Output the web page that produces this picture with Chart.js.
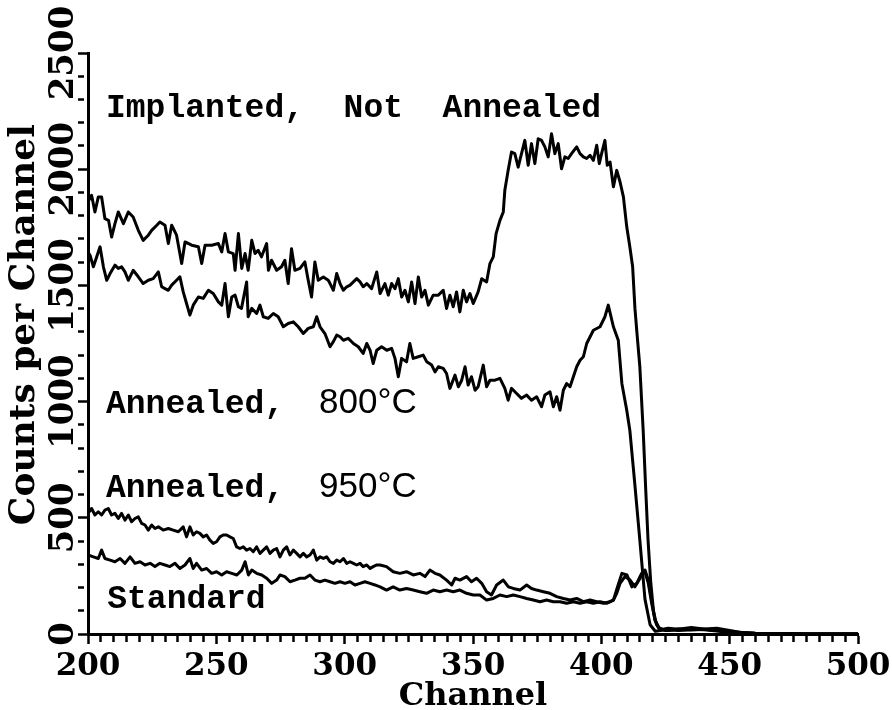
<!DOCTYPE html>
<html>
<head>
<meta charset="utf-8">
<script src="https://cdn.jsdelivr.net/npm/chart.js@4"></script>
<style>
  html, body { margin: 0; padding: 0; background: #fff; }
  #wrap { width: 892px; height: 710px; }
</style>
</head>
<body>
<div id="wrap"><canvas id="c" width="892" height="710"></canvas></div>
<script>
// ---- data (channel, counts per channel) ----
const implantedCh = [200,201.4,202.7,204,205.3,206.6,208,209.2,210.5,211.8,213.8,215.7,217.6,219.6,221.5,223.5,224.8,226.8,228,230,231.3,232.6,234.5,236.5,237.8,240.4,243,244.3,245.6,248.2,250.8,252.1,253.4,254.7,256.6,257.3,258.6,259.9,261.2,262.4,263.8,265.1,266.3,267.6,269.6,270.3,271.5,273.5,275.4,276.7,278,279.3,280.6,282.6,284.5,285.8,287.1,288.4,289.7,291.7,293.6,294.3,295.6,296.9,298.2,299.5,300.8,302.1,303.4,304.7,306,307.2,308.6,310.5,312.5,313.8,315.7,317,318.3,319.6,320.9,322.2,323.5,324.8,326.1,327.4,328.7,330,331.3,332.6,334.5,336.5,338.4,339.7,341,342.3,343.6,344.9,346.2,347.5,348.8,350.1,352,353.4,355.3,356.6,357.9,359,360.5,361.8,362.4,363.7,365,366.3,367.6,368.9,370.2,371.5,372.8,374.1,375.4,376.7,378,379.3,380.6,381.9,383.2,384.5,385.8,387.1,388.4,390.4,391.7,393,394.3,395.6,396.9,398.2,399.2,400.1,401.4,402.3,403.4,404.7,406,407.3,408.6,409.9,411.1,412.2,413.1,414,415,416.3,417.3,418.2,419.2,420.3,421.5,423,426,430,435,440,445,450,455,460,470,480,490,500];
const implantedCounts = [1860,1888,1816,1880,1880,1787,1780,1708,1766,1816,1766,1816,1794,1737,1694,1716,1737,1759,1773,1759,1680,1759,1716,1594,1687,1673,1666,1594,1673,1673,1680,1644,1723,1644,1637,1565,1723,1573,1637,1565,1694,1637,1651,1623,1680,1565,1608,1565,1580,1608,1508,1658,1565,1573,1601,1522,1450,1601,1522,1536,1522,1508,1479,1551,1508,1479,1494,1501,1515,1529,1515,1494,1508,1486,1558,1465,1508,1458,1508,1486,1529,1450,1479,1429,1515,1422,1536,1450,1479,1415,1458,1458,1479,1401,1458,1408,1472,1386,1479,1429,1465,1422,1472,1529,1515,1594,1623,1723,1780,1816,1909,1995,2074,2067,2009,2067,2124,2017,2110,2024,2131,2124,2096,2053,2153,2067,2110,2002,2053,2046,2067,2096,2067,2053,2046,2060,2038,2103,2024,2067,2124,2017,2031,1924,1995,1945,1881,1752,1666,1580,1400,1280,1150,877,620,404,230,100,40,18,25,20,28,22,25,15,5,3,2,0,0,0];

const a800Ch = [200,200.8,202.1,203.4,204.7,206,207.3,208.6,210.5,211.8,213.1,214.4,215.7,217.6,219.6,221.5,223.5,225.4,227.4,228.7,230,231.3,232.6,234.5,235.8,237.1,238.4,239.7,241,243,244.9,246.9,248.8,250.8,252.1,253.4,254.7,256,257.3,258.6,259.8,261.8,262.4,263.8,265.7,267,268.3,270.2,272.2,274.1,276.1,278,280,281.9,283.9,285.8,287.8,289.1,290.4,292.3,294.3,295.6,296.9,298.2,299.5,301.4,303.4,305.3,307.2,308.6,309.9,311.1,312.5,314.4,316.4,318.3,319.6,320.9,322.2,324.1,325.4,326.7,328.7,330.6,332,333.9,335.2,336.5,338.4,339.7,341,343,344.3,345.6,346.9,348.1,349.4,350.8,352,354,355.3,356.6,358.6,360.5,362.4,363.7,365,367,368.9,370.9,372.8,374.8,376.7,378,380,381.3,382.6,383.9,385.2,386.5,387.8,389.1,390.4,391.7,393,394.3,396.9,399.5,401.4,402.7,404.7,406.6,408,409.9,411.1,413,415,417,419,421,425,430,440,450,460,480,500];
const a800Counts = [1644,1630,1580,1623,1666,1580,1522,1551,1587,1573,1580,1558,1522,1565,1537,1508,1522,1529,1558,1494,1486,1479,1501,1522,1537,1472,1422,1372,1415,1450,1444,1479,1465,1429,1415,1508,1365,1450,1458,1408,1401,1515,1365,1401,1379,1415,1365,1358,1379,1365,1322,1336,1343,1322,1293,1315,1322,1365,1322,1293,1236,1258,1286,1279,1264,1272,1250,1236,1207,1250,1221,1164,1221,1236,1221,1229,1186,1107,1186,1171,1250,1186,1193,1200,1171,1157,1128,1150,1143,1121,1057,1114,1064,1092,1150,1071,1107,1049,1064,1157,1064,1092,1092,1100,1057,1006,1057,1035,1014,1028,1006,1021,978,1028,1042,978,1021,963,1049,1078,1064,1107,1150,1178,1193,1250,1307,1322,1365,1415,1322,1264,1078,963,877,650,404,150,40,12,18,15,20,10,3,0,0];

const a950Ch = [200,201.4,202.7,204,205.3,206.6,207.9,209.2,210.5,211.8,213.1,214.4,215.7,217,218.3,219.6,220.9,222.2,223.5,224.8,226.1,227.4,229.3,231.3,233.2,235.2,237.1,238.4,239.7,241,242.3,243.6,244.9,246.2,247.5,248.8,250.1,251.4,252.7,254,255.3,256.6,257.9,259.2,260.5,261.8,263.1,264.4,265.7,267,268.3,269.6,270.9,272.2,273.5,274.8,276.1,277.4,278.7,280,281.3,282.6,283.9,285.2,286.5,287.8,289.1,290.4,291.7,293,294.3,295.6,296.9,298.2,299.5,300.8,302.1,303.4,304.7,306,307.2,308.6,309.9,311.1,312.5,313.8,316.3,318.9,321.5,324.1,326.7,329.3,331.3,333.2,335.2,337.1,339.7,341.7,343,344.9,347.5,349.4,351.4,353.4,355.3,357.2,359.2,361.8,363.8,365.7,368.3,370.9,372.8,374.8,377.4,380,382.6,385.2,387.8,390.4,393,395.6,398.2,400.8,403.4,404.7,406.3,408,410,411.9,413.8,415.7,417,418.3,419.6,420.9,422.8,426,430,435,440,445,450,460,480,500];
const a950Counts = [519,540,512,526,512,533,540,512,519,497,519,490,512,483,497,504,476,469,447,469,454,461,447,454,447,440,461,418,461,426,440,433,418,426,404,390,397,418,426,426,418,411,375,368,375,361,368,354,375,347,361,375,347,361,368,332,361,375,340,361,347,332,347,332,340,361,318,332,325,332,311,304,318,311,325,304,311,304,297,304,290,297,282,290,297,297,290,268,261,268,254,261,247,275,261,254,232,211,240,232,247,225,240,218,182,168,211,232,203,196,189,211,196,189,182,175,161,153,146,153,139,146,139,132,139,146,203,261,254,203,218,261,268,218,132,60,20,15,22,18,20,15,8,2,0,0];

const standardCh = [200,202.1,204,205.3,206.6,208.6,210.5,212.5,214.4,216.4,218.3,220.3,222.2,224.2,226.1,228,230,231.9,233.9,235.8,237.8,239.7,241,242.3,244.3,246.2,248.2,250.1,252.1,254,256,258,259.9,261.2,262.5,263.8,265.7,267.7,269.6,271.6,273.5,274.8,276.7,278.7,280.6,282.6,284.5,286.5,288.4,290.4,292.3,294.3,296.2,298.2,300.1,302.1,304,306,307.9,309.9,311.8,313.8,316.3,318.9,321.5,324.1,326.7,329.3,331.9,334.5,337.1,339.7,342.3,344.9,347.5,350.1,352.7,355.3,357.9,360.5,363.1,365.7,368.3,370.9,373.5,376.1,378.7,381.3,383.9,386.5,389.1,391.7,394.3,396.9,399.5,402,404.7,406,407.3,409.2,411.2,413.1,415.1,417,418.3,419.6,420.9,422.2,425,430,440,450,460,480,500];
const standardCounts = [340,332,325,361,325,318,311,325,304,332,304,311,297,304,290,304,297,290,304,282,297,325,282,304,275,282,261,268,254,268,261,254,275,311,254,275,261,254,240,218,232,254,247,225,232,240,240,254,232,225,232,225,218,225,218,225,211,218,225,218,211,203,189,203,189,196,189,182,175,189,182,189,182,189,175,168,168,146,153,168,161,168,161,153,146,139,146,139,139,132,139,132,139,132,139,132,146,175,218,247,232,203,240,275,232,146,60,29,15,20,18,8,2,0,0];

// ---- axis tick labels ----
const xTickLabels = [200, 250, 300, 350, 400, 450, 500];
const yTickLabels = [0, 500, 1000, 1500, 2000, 2500];

// ---- curve annotations (text, anchored in data units) ----
const annoTexts = ['Implanted,  Not  Annealed', 'Annealed,', '800°C', 'Annealed,', '950°C', 'Standard'];
const annoCh = [207, 207, 290, 207, 290, 207.5];
const annoCounts = [2225, 951, 951, 590, 590, 112];
const annoSans = [false, false, true, false, true, false];

const toXY = (xs, ys) => xs.map((x, i) => ({x: x, y: ys[i]}));

const lineStyle = {
  borderColor: '#000', borderWidth: 3, pointRadius: 0, fill: false,
  tension: 0, borderJoinStyle: 'round', borderCapStyle: 'round'
};

const annoPlugin = {
  id: 'anno',
  afterDatasetsDraw(chart) {
    const {ctx, scales: {x, y}} = chart;
    ctx.save();
    ctx.fillStyle = '#000';
    ctx.textAlign = 'left';
    ctx.textBaseline = 'alphabetic';
    annoTexts.forEach((t, i) => {
      ctx.font = annoSans[i] ? '35px "Liberation Sans"' : 'bold 33px "Liberation Mono"';
      ctx.fillText(t, x.getPixelForValue(annoCh[i]), y.getPixelForValue(annoCounts[i]));
    });
    ctx.restore();
  }
};

const serifBold = (size) => ({family: '"DejaVu Serif"', weight: 'bold', size: size, lineHeight: 1});

new Chart(document.getElementById('c'), {
  type: 'line',
  data: {
    datasets: [
      Object.assign({label: 'Implanted, Not Annealed', data: toXY(implantedCh, implantedCounts)}, lineStyle),
      Object.assign({label: 'Annealed, 800°C', data: toXY(a800Ch, a800Counts)}, lineStyle),
      Object.assign({label: 'Annealed, 950°C', data: toXY(a950Ch, a950Counts)}, lineStyle),
      Object.assign({label: 'Standard', data: toXY(standardCh, standardCounts)}, lineStyle)
    ]
  },
  options: {
    responsive: false,
    animation: false,
    events: [],
    layout: {padding: {left: 0, right: 34, top: 53, bottom: 0}},
    plugins: {legend: {display: false}, tooltip: {enabled: false}},
    scales: {
      x: {
        type: 'linear', min: 200, max: 500,
        afterFit: (s) => { s.height = 76; s.paddingLeft = 0; s.paddingRight = 0; },
        border: {display: true, color: '#000', width: 3},
        grid: {
          drawOnChartArea: false, drawTicks: true, tickLength: 10, tickWidth: 2.5, tickColor: '#000',
          tickBorderDash: (c) => (c.tick && xTickLabels.includes(c.tick.value)) ? [] : [6, 100]
        },
        ticks: {
          stepSize: 5, autoSkip: false, maxRotation: 0, minRotation: 0, padding: 7,
          color: '#000', font: serifBold(31),
          callback: (v) => xTickLabels.includes(v) ? String(v) : ''
        },
        title: {display: true, text: 'Channel', color: '#000', font: serifBold(32), padding: {top: 0, bottom: -3}}
      },
      y: {
        type: 'linear', min: 0, max: 2500,
        afterFit: (s) => { s.width = 88; s.paddingTop = 0; s.paddingBottom = 0; },
        border: {display: true, color: '#000', width: 3},
        grid: {
          drawOnChartArea: false, drawTicks: true, tickLength: 10, tickWidth: 2.5, tickColor: '#000',
          tickBorderDash: (c) => (c.tick && yTickLabels.includes(c.tick.value)) ? [] : [6, 100]
        },
        ticks: {
          stepSize: 100, autoSkip: false, minRotation: 90, maxRotation: 90, crossAlign: 'center',
          padding: -33, color: '#000', font: serifBold(34),
          callback: (v) => yTickLabels.includes(v) ? String(v) : ''
        },
        title: {display: true, text: '   Counts per Channel', color: '#000', font: serifBold(36), padding: {top: 7, bottom: 0}}
      }
    }
  },
  plugins: [annoPlugin]
});
</script>
</body>
</html>
